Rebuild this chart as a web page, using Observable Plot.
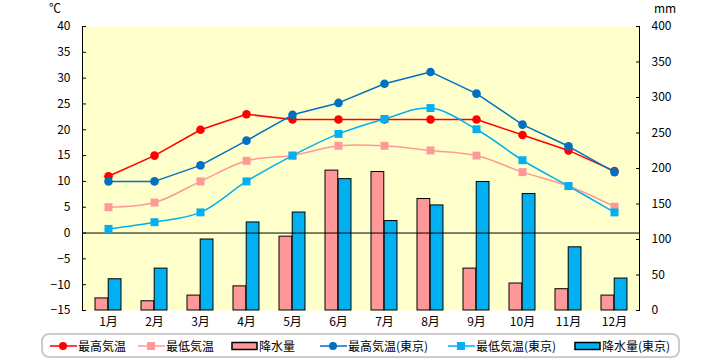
<!DOCTYPE html>
<html><head><meta charset="utf-8">
<script src="https://cdn.jsdelivr.net/npm/d3@7"></script>
<script src="https://cdn.jsdelivr.net/npm/@observablehq/plot@0.6"></script>
<style>
body{margin:0;background:#fff;font-family:"Noto Sans CJK JP",sans-serif;}
#wrap{position:relative;width:720px;height:360px;overflow:hidden;}
#wrap > svg{position:absolute;left:0;top:0;}
.unit{position:absolute;font-size:12px;line-height:14px;color:#000;}
#legend{position:absolute;left:41px;top:333px;width:635px;height:21px;border:2px solid #cccccc;border-radius:8px;box-sizing:content-box;}
.item{position:absolute;top:0;height:21px;display:flex;align-items:center;font-size:12px;color:#000;white-space:nowrap;}
.item svg{display:block;margin-right:1px;}
</style></head><body>
<div id="wrap"></div>
<script>
const months = ["1月","2月","3月","4月","5月","6月","7月","8月","9月","10月","11月","12月"];
const maxTemp = [11, 15, 20, 23, 22, 22, 22, 22, 22, 19, 16, 12];
const minTemp = [5, 5.9, 10, 14, 15, 16.9, 16.9, 16, 15, 11.8, 9.1, 5.1];
const tokyoMax = [10, 10, 13.1, 17.9, 22.9, 25.2, 28.9, 31.2, 27, 21, 16.8, 11.8];
const tokyoMin = [0.8, 2.1, 4, 10, 15, 19.2, 22.1, 24.2, 20.1, 14.1, 9.1, 4];
const precip = [17, 13, 21, 34, 104, 197, 195, 157, 59, 38, 30, 21];
const tokyoPrecip = [44, 59, 100, 124, 138, 185, 126, 148, 181, 164, 89, 45];
const tempTicks = [-15,-10,-5,0,5,10,15,20,25,30,35,40];
const mmTicks = [0,50,100,150,200,250,300,350,400];
const seriesNames = ["最高気温","最低気温","降水量","最高気温(東京)","最低気温(東京)","降水量(東京)"];

const T0 = -15, T1 = 40, P1 = 400;
const mm = v => T0 + v * (T1 - T0) / P1;
const rows = months.map((m, i) => ({month: m, maxT: maxTemp[i], minT: minTemp[i], tMax: tokyoMax[i], tMin: tokyoMin[i], p: precip[i], tp: tokyoPrecip[i]}));

const C = {red:"#FF0000", pink:"#FF9999", blue:"#0070C0", cyan:"#00B0F0"};
const bw = (720 - 82 - 81) / 12;

const plot = Plot.plot({
  width: 720, height: 360,
  marginTop: 26, marginBottom: 50, marginLeft: 82, marginRight: 81,
  style: {fontFamily: "'Noto Sans CJK JP', sans-serif", fontSize: "12px", color: "#000", background: "transparent"},
  x: {type: "band", domain: months, padding: 0, label: null},
  y: {domain: [T0, T1], label: null},
  marks: [
    Plot.frame({fill: "#FFFFCC", stroke: null}),
    Plot.barY(rows, {x: "month", y1: () => mm(0), y2: d => mm(d.p), fill: C.pink, stroke: "#000", strokeWidth: 1, insetLeft: 10, insetRight: bw - 23.2}),
    Plot.barY(rows, {x: "month", y1: () => mm(0), y2: d => mm(d.tp), fill: C.cyan, stroke: "#000", strokeWidth: 1, insetLeft: 23.2, insetRight: bw - 36.4}),
    Plot.ruleY([0], {stroke: "#000", strokeWidth: 1}),
    Plot.line(rows, {x: "month", y: "maxT", stroke: C.red, strokeWidth: 1.5}),
    Plot.dot(rows, {x: "month", y: "maxT", fill: C.red, r: 4.3, symbol: "circle"}),
    Plot.line(rows, {x: "month", y: "minT", stroke: C.pink, strokeWidth: 1.5, curve: "catmull-rom"}),
    Plot.dot(rows, {x: "month", y: "minT", fill: C.pink, r: 4.5, symbol: "square"}),
    Plot.line(rows, {x: "month", y: "tMax", stroke: C.blue, strokeWidth: 1.5}),
    Plot.dot(rows, {x: "month", y: "tMax", fill: C.blue, r: 4.3, symbol: "circle"}),
    Plot.line(rows, {x: "month", y: "tMin", stroke: C.cyan, strokeWidth: 1.5, curve: "catmull-rom"}),
    Plot.dot(rows, {x: "month", y: "tMin", fill: C.cyan, r: 4.5, symbol: "square"}),
    Plot.frame({anchor: "left", stroke: "#000", strokeWidth: 1}),
    Plot.frame({anchor: "right", stroke: "#000", strokeWidth: 1}),
    Plot.axisX({tickSize: 0, tickPadding: 7, label: null}),
    Plot.axisY(tempTicks, {anchor: "left", tickSize: -4, tickPadding: 16, label: null}),
    Plot.axisY(mmTicks.map(mm), {anchor: "right", tickSize: -4, tickPadding: 16, label: null, tickFormat: y => String(Math.round((y - T0) * P1 / (T1 - T0)))})
  ]
});
const wrap = document.getElementById("wrap");
wrap.appendChild(plot);

function addUnit(text, left, top) {
  const d = document.createElement("div");
  d.className = "unit"; d.textContent = text;
  d.style.left = left + "px"; d.style.top = top + "px";
  wrap.appendChild(d);
}
addUnit("℃", 49, 1);
addUnit("mm", 654, 1);

const legend = document.createElement("div");
legend.id = "legend";
wrap.appendChild(legend);
const swatchDefs = [
  {type: "line", color: C.red, symbol: "circle"},
  {type: "line", color: C.pink, symbol: "square"},
  {type: "rect", color: C.pink},
  {type: "line", color: C.blue, symbol: "circle"},
  {type: "line", color: C.cyan, symbol: "square"},
  {type: "rect", color: C.cyan}
];
const itemLeft = [7, 95, 188, 277, 405, 531];
seriesNames.forEach((name, i) => {
  const s = swatchDefs[i];
  const it = document.createElement("div");
  it.className = "item"; it.style.left = itemLeft[i] + "px";
  let svg;
  if (s.type === "line") {
    const mark = s.symbol === "circle"
      ? `<circle cx="13" cy="6" r="4" fill="${s.color}"/>`
      : `<rect x="9" y="2" width="8" height="8" fill="${s.color}"/>`;
    svg = `<svg width="27" height="12"><line x1="0" x2="27" y1="6" y2="6" stroke="${s.color}" stroke-width="1.5"/>${mark}</svg>`;
  } else {
    svg = `<svg width="27" height="12"><rect x="1" y="2.5" width="25" height="7" fill="${s.color}" stroke="#000" stroke-width="1.5"/></svg>`;
  }
  it.innerHTML = svg + `<span>${name}</span>`;
  legend.appendChild(it);
});
</script>
</body></html>
